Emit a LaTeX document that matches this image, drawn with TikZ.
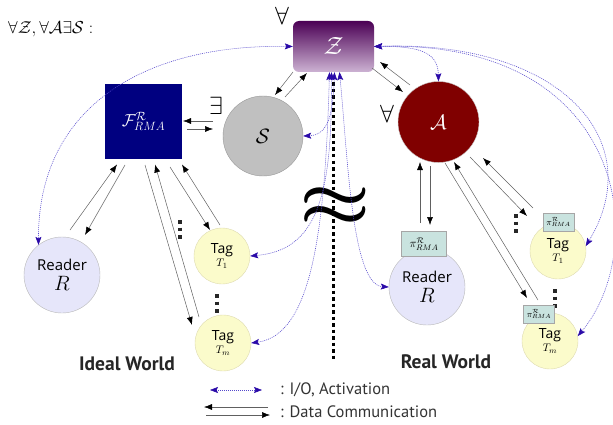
\documentclass[tikz,border=0pt]{standalone}
\usepackage{fontspec}
\usetikzlibrary{arrows.meta,calc}
\newfontfamily\labfont{Open Sans}
\newfontfamily\legfont{PT Sans}
\definecolor{navyF}{HTML}{000080}
\definecolor{zTop}{HTML}{4B0055}
\definecolor{zBot}{HTML}{CDB3D3}
\definecolor{sGray}{HTML}{C0C0C0}
\definecolor{aRed}{HTML}{800000}
\definecolor{lav}{HTML}{E6E6FA}
\definecolor{tagY}{HTML}{FBFBCB}
\definecolor{piT}{HTML}{C9E3DF}
\definecolor{ioLine}{HTML}{5448CC}
\definecolor{ioHead}{HTML}{2A0AA8}
\newcommand{\bigapprox}{\scalebox{8}[7]{\boldmath$\approx$}}
\tikzset{
  reader/.style={circle, draw=gray!55, fill=lav, minimum size=76pt, inner sep=0pt, align=center},
  tagc/.style={circle, draw=yellow!40!gray!50, fill=tagY, minimum size=56pt, inner sep=0pt, align=center},
  pibig/.style={draw=gray!70, fill=piT, minimum width=45pt, minimum height=25pt, inner sep=0pt, font=\fontsize{12}{12}\selectfont},
  pismall/.style={draw=gray!70, fill=piT, minimum width=31pt, minimum height=18pt, inner sep=0pt, font=\fontsize{9}{9}\selectfont},
  data/.style={draw=gray!75!black, line width=0.5pt, -{Latex[length=8pt,width=6pt,color=black]}},
  io/.style={draw=ioLine, line width=0.55pt, dash pattern=on 1pt off 1pt,
    {Stealth[length=8pt,width=6pt,inset=1.5pt,color=ioHead]}-{Stealth[length=8pt,width=6pt,inset=1.5pt,color=ioHead]}},
  quant/.style={inner sep=0pt},
  vdots/.style={line width=3.5pt, dash pattern=on 3.5pt off 4pt, black!85},
  world/.style={font=\legfont\bfseries\fontsize{19.5}{19.5}\selectfont, text=black!85},
  legtext/.style={font=\legfont\fontsize{16.5}{16.5}\selectfont, text=black!80, anchor=west, inner sep=0pt}
}
\begin{document}
\begin{tikzpicture}[x=1pt,y=-1pt]
\useasboundingbox (0,0) rectangle (613,425);

% title
\node[quant, anchor=west] (title) at (8,29) {\fontsize{17}{17}\selectfont$\forall\mathcal{Z},\forall\mathcal{A}\exists\mathcal{S}:$};

% main nodes
\node[rounded corners=6pt, top color=zTop, bottom color=zBot, minimum width=81pt, minimum height=51pt, inner sep=0pt] (Z) at (333.5,46.5) {\color{white}\fontsize{24}{24}\selectfont$\mathcal{Z}$};
\node[fill=navyF, minimum width=77pt, minimum height=75pt, inner sep=0pt] (F) at (143.5,121.5) {\color{white}\fontsize{18}{18}\selectfont$\mathcal{F}^{\mathcal{R}}_{RMA}$};
\node[circle, fill=sGray, draw=gray!80, minimum size=80pt, inner sep=0pt] (S) at (263,136) {\fontsize{20}{20}\selectfont$\mathcal{S}$};
\node[circle, fill=aRed, draw=gray!40, minimum size=81pt, inner sep=0pt] (A) at (438.5,122) {\color{white}\fontsize{21}{21}\selectfont$\mathcal{A}$};

\node[quant] (qZ) at (282,16) {\fontsize{32}{32}\selectfont$\forall$};
\node[quant] (qS) at (216,106) {\fontsize{28}{28}\selectfont$\exists$};
\node[quant] (qA) at (387,114) {\fontsize{32}{32}\selectfont$\forall$};

% small vertical dots (drawn before nodes)
\draw[vdots] (180,220) -- (180,242);
\draw[vdots] (217,294) -- (217,316);
\draw[vdots] (516,214) -- (516,236);
\draw[vdots] (555,289) -- (555,311);

% ideal world
\node[reader] (RI) at (62,275) {\labfont\fontsize{15}{15}\selectfont Reader\\[5pt]\fontsize{21}{21}\selectfont$R$};
\node[tagc] (TI1) at (222,256) {\labfont\fontsize{14}{14}\selectfont Tag\\[1pt]\fontsize{11}{11}\selectfont$T_1$};
\node[tagc] (TIm) at (223,343) {\labfont\fontsize{14}{14}\selectfont Tag\\[1pt]\fontsize{11}{11}\selectfont$T_m$};

% real world
\node[reader] (RR) at (427,287) {\labfont\fontsize{15}{15}\selectfont Reader\\[5pt]\fontsize{21}{21}\selectfont$R$};
\node[pibig] (PR) at (424,244) {$\pi^{\mathcal{R}}_{RMA}$};
\node[tagc] (TR1) at (558,251) {\labfont\fontsize{14}{14}\selectfont Tag\\[1pt]\fontsize{11}{11}\selectfont$T_1$};
\node[pismall] (PT1) at (558.5,222) {$\pi^{\mathcal{R}}_{RMA}$};
\node[tagc] (TRm) at (550,341) {\labfont\fontsize{14}{14}\selectfont Tag\\[1pt]\fontsize{11}{11}\selectfont$T_m$};
\node[pismall] (PTm) at (539,314) {$\pi^{\mathcal{R}}_{RMA}$};

% separator
\coordinate (sepEnd) at (333,360);
\coordinate (sepStart) at (333,76);
\draw[line width=3pt, dash pattern=on 3.5pt off 3pt] (sepStart) -- (sepEnd);
\node[quant] (wave) at (335,207) {\bigapprox};

\node[world] (iw) at (127,364) {Ideal World};
\node[world] (rw) at (446,362) {Real World};

% data communication arrows
\draw[data] ($(Z)+(-40.5,25.5)$) -- ($(S)+(12,-41)$);
\draw[data] ($(S)+(22,-39)$) -- ($(Z)+(-26.5,26.5)$);
\draw[data] ($(S)+(-50,-15)$) -- ($(F)+(39.5,-0.5)$);
\draw[data] ($(F)+(43.5,7.5)$) -- ($(S)+(-50,-7)$);
\draw[data] ($(A)+(-28.5,-37)$) -- ($(Z)+(46.5,15.5)$);
\draw[data] ($(Z)+(38.5,21.5)$) -- ($(A)+(-35.5,-30)$);
\draw[data] ($(PR)+(-4,-21)$) -- ($(A)+(-18.5,40)$);
\draw[data] ($(A)+(-8.5,44)$) -- ($(PR)+(6,-19)$);
\draw[data] ($(PT1)+(-25.5,-14)$) -- ($(A)+(44.5,36)$);
\draw[data] ($(A)+(31.5,35)$) -- ($(PT1)+(-31.5,-6)$);
\draw[data] ($(PTm)+(-1,-14)$) -- ($(A)+(15.5,40)$);
\draw[data] ($(A)+(6.5,41)$) -- ($(PTm)+(-12,-16)$);
\draw[data] ($(RI)+(8,-45)$) -- ($(F)+(-26.5,43)$);
\draw[data] ($(F)+(-18.5,43.5)$) -- ($(RI)+(23,-40)$);
\draw[data] ($(F)+(1.5,43.5)$) -- ($(TIm)+(-31,-18)$);
\draw[data] ($(TIm)+(-24,-26)$) -- ($(F)+(11.5,43)$);
\draw[data] ($(F)+(26.5,45.5)$) -- ($(TI1)+(-12,-26)$);
\draw[data] ($(TI1)+(-2,-31)$) -- ($(F)+(38.5,43)$);

% I/O activation arrows
\draw[io] (Z.west) .. controls (140,44) and (38,110) .. (RI.128);
\draw[io] ($(Z.south)+(1,0)$) .. controls (333,115) and (328,135) .. (S.east);
\draw[io] ($(Z.south)+(-2,0)$) .. controls (332,190) and (320,250) .. (TI1.east);
\draw[io] ($(Z.south)+(-4,0)$) .. controls (325,230) and (312,335) .. (TIm.east);
\draw[io] ($(Z.south)+(6,0)$) .. controls (348,160) and (352,285) .. (RR.west);
\draw[io] (Z.east) .. controls (425,46) and (438,55) .. (A.north);
\draw[io] (Z.east) .. controls (560,40) and (650,140) .. (TR1.10);
\draw[io] (Z.east) .. controls (630,40) and (650,250) .. (TRm.10);

% legend
\coordinate (l1a) at (210,390);
\coordinate (l1b) at (262,390);
\draw[io] (l1a) -- (l1b);
\node[legtext] (leg1) at (280,390) {: I/O, Activation};
\coordinate (l2a) at (268,407);
\coordinate (l2b) at (204,407);
\coordinate (l3a) at (206,415);
\coordinate (l3b) at (270,415);
\draw[data] (l2a) -- (l2b);
\draw[data] (l3a) -- (l3b);
\node[legtext] (leg2) at (280,412) {: Data Communication};
\end{tikzpicture}
\end{document}
